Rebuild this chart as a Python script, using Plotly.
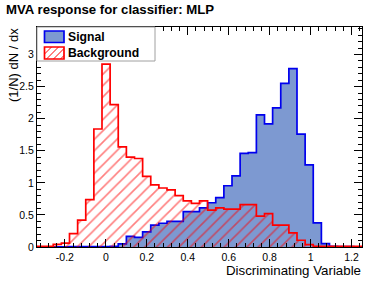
import numpy as np
import plotly.graph_objects as go

# ---------------- data ----------------
x_min, x_max, n_bins = -0.336, 1.251, 40

signal = [0.0, 0.0, 0.003, 0.003, 0.005, 0.005, 0.005, 0.005, 0.008, 0.01,
          0.05, 0.167, 0.15, 0.235, 0.34, 0.37, 0.40, 0.40, 0.55, 0.55,
          0.61, 0.69, 0.77, 0.955, 1.11, 1.46, 1.47, 2.06, 1.92, 2.17,
          2.55, 2.78, 1.76, 1.28, 0.376, 0.053, 0.01, 0.005, 0.005, 0.003]

background = [0.01, 0.01, 0.04, 0.06, 0.21, 0.42, 0.74, 1.84, 2.85, 2.22,
              1.56, 1.40, 1.38, 1.10, 0.97, 0.92, 0.89, 0.80, 0.72, 0.68,
              0.72, 0.574, 0.61, 0.59, 0.59, 0.66, 0.66, 0.48, 0.52, 0.34,
              0.34, 0.22, 0.105, 0.037, 0.01, 0.01, 0.01, 0.01, 0.01, 0.01]

y_max = 3.43
x_ticks = [-0.2, 0, 0.2, 0.4, 0.6, 0.8, 1, 1.2]
y_ticks = [0, 0.5, 1, 1.5, 2, 2.5, 3]

title = "MVA response for classifier: MLP"
x_title = "Discriminating Variable"
y_title = "(1/N) dN / dx"
legend_names = ["Signal", "Background"]

# ---------------- styling ----------------
W, H = 381, 281
L, R, T, B = 37, 19, 27, 34
SIG_FILL = "#7d99d1"
SIG_LINE = "#0000ee"
BKG_LINE = "#ff0000"
FONT = "Liberation Sans, Arial, Helvetica, sans-serif"

edges = np.linspace(x_min, x_max, n_bins + 1)


def step(vals):
    xs = [edges[0]] + list(edges) + [edges[-1]]
    ys = [0] + list(vals) + [vals[-1], 0]
    return xs, ys


fig = go.Figure()

sx, sy = step(signal)
fig.add_trace(go.Scatter(x=sx, y=sy, mode="lines", line=dict(color=SIG_LINE, width=1.7, shape="hv"),
                         fill="tozeroy", fillcolor=SIG_FILL, name=legend_names[0],
                         hoverinfo="skip", showlegend=False))

bx, by = step(background)
fig.add_trace(go.Scatter(x=bx, y=by, mode="lines", line=dict(color=BKG_LINE, width=1.7, shape="hv"),
                         fill="tozeroy", fillcolor="rgba(0,0,0,0)",
                         fillpattern=dict(shape="/", fgcolor=BKG_LINE, bgcolor="rgba(0,0,0,0)",
                                          size=8, solidity=0.2),
                         name=legend_names[1], hoverinfo="skip", showlegend=False))

axis_common = dict(showline=True, linecolor="black", linewidth=1, mirror="ticks",
                   ticks="inside", ticklen=8, tickwidth=1, tickcolor="black",
                   showgrid=False, zeroline=False,
                   tickfont=dict(family=FONT, size=10.5, color="black"))

fig.update_xaxes(range=[x_min, x_max], tickvals=x_ticks,
                 ticktext=[("-" + f"{abs(v):g}") if v < 0 else f"{v:g}" for v in x_ticks],
                 minor=dict(dtick=0.04, tick0=0, ticks="inside", ticklen=4, tickcolor="black"),
                 **axis_common)
fig.update_yaxes(range=[0, y_max], tickvals=y_ticks,
                 ticktext=[f"{v:g}" for v in y_ticks],
                 minor=dict(dtick=0.1, tick0=0, ticks="inside", ticklen=4, tickcolor="black"),
                 **axis_common)

pw, ph = W - L - R, H - T - B


def px(xp):
    return (xp - L) / pw


def py(yp):
    return (H - B - yp) / ph


annotations = [
    dict(text="<b>" + title + "</b>", x=px(4.5), y=py(9), xanchor="left", yanchor="middle",
         font=dict(family=FONT, size=13.2, color="black")),
    dict(text=x_title, x=px(362), y=py(270), xanchor="right", yanchor="middle",
         font=dict(family=FONT, size=13.3, color="black")),
    dict(text=y_title, x=px(13), y=py(27), xanchor="center", yanchor="top", textangle=-90,
         font=dict(family=FONT, size=13, color="black")),
    dict(text="<b>" + legend_names[0] + "</b>", x=px(66.5), y=py(36.5), xanchor="left", yanchor="middle",
         font=dict(family=FONT, size=12.2, color="black")),
    dict(text="<b>" + legend_names[1] + "</b>", x=px(66.5), y=py(52.5), xanchor="left", yanchor="middle",
         font=dict(family=FONT, size=12.2, color="black")),
]
for a in annotations:
    a.update(xref="paper", yref="paper", showarrow=False, borderpad=0)

shapes = []
# legend box
shapes.append(dict(type="rect", xref="paper", yref="paper", x0=px(37), x1=px(155), y0=py(61), y1=py(27),
                   line=dict(color="#a0a0a0", width=1), fillcolor="white", layer="above"))
# signal swatch
shapes.append(dict(type="rect", xref="paper", yref="paper", x0=px(44.5), x1=px(64), y0=py(42.5), y1=py(31),
                   line=dict(color=SIG_LINE, width=1.7), fillcolor=SIG_FILL, layer="above"))
# background swatch (hatched)
bx0, bx1, by0, by1 = 44.5, 64, 47, 59
for c in np.arange(bx0 - (by1 - by0), bx1 + 1, 7):
    t0 = max(0, bx0 - c)
    t1 = min(by1 - by0, bx1 - c)
    if t1 > t0:
        shapes.append(dict(type="line", xref="paper", yref="paper",
                           x0=px(c + t0), y0=py(by1 - t0), x1=px(c + t1), y1=py(by1 - t1),
                           line=dict(color=BKG_LINE, width=1), layer="above"))
shapes.append(dict(type="rect", xref="paper", yref="paper", x0=px(bx0), x1=px(bx1), y0=py(by1), y1=py(by0),
                   line=dict(color=BKG_LINE, width=1.7), fillcolor="rgba(0,0,0,0)", layer="above"))

fig.update_layout(width=W, height=H, margin=dict(l=L, r=R, t=T, b=B, pad=0),
                  paper_bgcolor="white", plot_bgcolor="white",
                  annotations=annotations, shapes=shapes, showlegend=False)

fig.write_html("out.html", config={"displayModeBar": False},
               post_script="document.body.style.margin='0';document.body.style.overflow='hidden';")
